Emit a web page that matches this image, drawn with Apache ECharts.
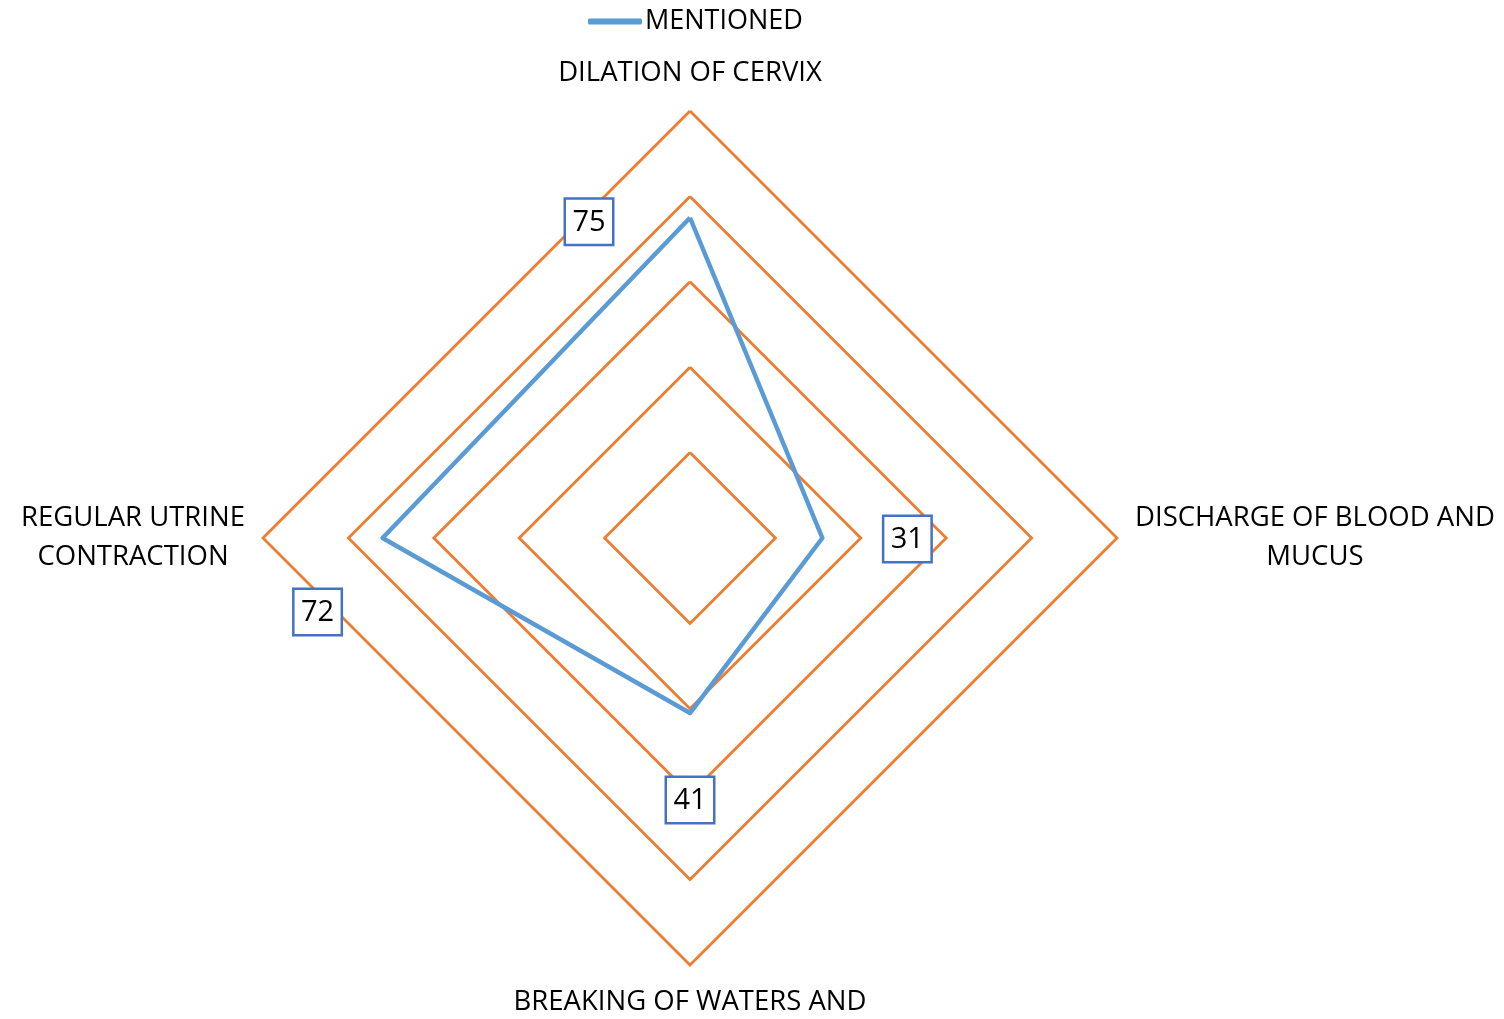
<!DOCTYPE html>
<html><head><meta charset="utf-8">
<script src="https://cdn.jsdelivr.net/npm/echarts@6/dist/echarts.min.js"></script>
<style>html,body{margin:0;padding:0;background:#fff}#c{width:1504px;height:1019px}</style>
</head><body><div id="c"></div>
<script>
// indicators listed counter-clockwise from the top
const categories = ['DILATION OF CERVIX', 'REGULAR UTRINE\nCONTRACTION', 'BREAKING OF WATERS AND', 'DISCHARGE OF BLOOD AND\nMUCUS'];
const mentioned = [75, 72, 41, 31];
const seriesName = 'MENTIONED';
const maxValue = 100;

const font = '"Open Sans", "Noto Sans", sans-serif';
const labelOffsets = [[-101, 4], [-65, 74], [0, 87], [85, 1]];

const chart = echarts.init(document.getElementById('c'));
const labelSeries = categories.map((c, i) => ({
  type: 'radar',
  silent: true,
  symbol: 'circle',
  symbolSize: 1,
  itemStyle: { color: 'rgba(0,0,0,0)' },
  lineStyle: { opacity: 0 },
  z: 5,
  data: [{
    value: mentioned,
    label: {
      show: true,
      position: 'inside',
      offset: labelOffsets[i],
      formatter: p => (p.dimensionIndex === i ? '{b|' + p.value + '}' : ''),
      rich: {
        b: {
          color: '#000',
          fontFamily: font,
          fontSize: 29,
          backgroundColor: '#fff',
          borderColor: '#4472C4',
          borderWidth: 2.5,
          width: 34,
          height: 34,
          align: 'center',
          verticalAlign: 'middle',
          padding: [6, 6, 4, 6]
        }
      }
    }
  }]
}));

chart.setOption({
  animation: false,
  legend: {
    top: 3,
    left: 583,
    data: [seriesName],
    itemWidth: 54,
    itemHeight: 6,
    itemGap: 4,
    icon: 'roundRect',
    textStyle: { fontFamily: font, fontSize: 27, color: '#000', padding: [0, 0, 0, -2] }
  },
  radar: {
    center: [690, 538],
    radius: 427,
    startAngle: 90,
    shape: 'polygon',
    splitNumber: 5,
    indicator: categories.map(n => ({ name: n, max: maxValue, min: 0 })),
    axisName: {
      color: '#000',
      fontFamily: font,
      fontSize: 27.5,
      lineHeight: 39,
      formatter: n => n.split('\n').map(s => '{a|' + s + '}').join('\n'),
      rich: { a: { align: 'center', fontFamily: font, fontSize: 27.5, color: '#000', lineHeight: 39 } }
    },
    nameGap: 18,
    axisLine: { show: false },
    axisTick: { show: false },
    splitArea: { show: false },
    splitLine: { lineStyle: { color: '#ED7D31', width: 2.8 } }
  },
  series: [{
    name: seriesName,
    type: 'radar',
    symbol: 'none',
    lineStyle: { color: '#5B9BD5', width: 4.5 },
    itemStyle: { color: '#5B9BD5' },
    z: 3,
    data: [{ value: mentioned, name: seriesName }]
  }].concat(labelSeries)
});
</script></body></html>
